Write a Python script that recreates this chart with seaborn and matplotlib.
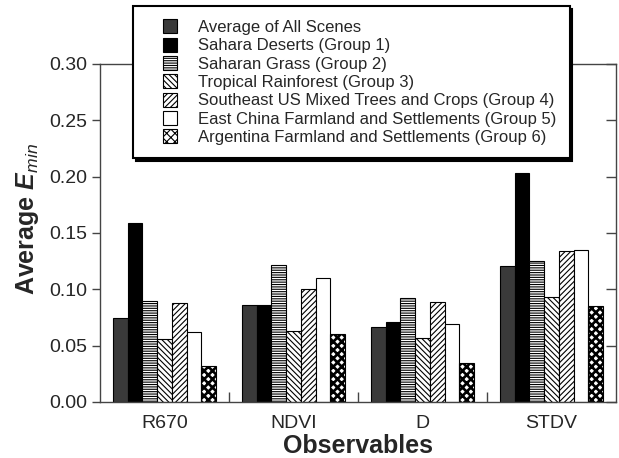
import numpy as np
import pandas as pd
import matplotlib
matplotlib.use("Agg")
import matplotlib.pyplot as plt
import matplotlib.patches as mpatches
from matplotlib.legend_handler import HandlerPatch
from matplotlib.ticker import FixedLocator, MultipleLocator, FormatStrFormatter
import seaborn as sns

# Observables on the x axis
observables = ["R670", "NDVI", "D", "STDV"]

# Scene groups (legend entries)
groups = [
    "Average of All Scenes",
    "Sahara Deserts (Group 1)",
    "Saharan Grass (Group 2)",
    "Tropical Rainforest (Group 3)",
    "Southeast US Mixed Trees and Crops (Group 4)",
    "East China Farmland and Settlements (Group 5)",
    "Argentina Farmland and Settlements (Group 6)",
]

# Average E_min per group, ordered R670, NDVI, D, STDV
avg_all = [0.075, 0.086, 0.067, 0.121]
sahara_deserts = [0.159, 0.086, 0.071, 0.203]
saharan_grass = [0.090, 0.122, 0.092, 0.125]
tropical_rainforest = [0.056, 0.063, 0.057, 0.093]
southeast_us = [0.088, 0.100, 0.089, 0.134]
east_china = [0.062, 0.110, 0.069, 0.135]
argentina = [0.032, 0.060, 0.035, 0.085]

series = [avg_all, sahara_deserts, saharan_grass, tropical_rainforest,
          southeast_us, east_china, argentina]

rows = []
for g, vals in zip(groups, series):
    for obs, v in zip(observables, vals):
        rows.append({"Observable": obs, "Group": g, "Emin": v})
df = pd.DataFrame(rows)

sns.set_style("ticks")
plt.rcParams["font.family"] = ["Liberation Sans", "DejaVu Sans"]
plt.rcParams["mathtext.fontset"] = "custom"
plt.rcParams["mathtext.rm"] = "Liberation Sans"
plt.rcParams["mathtext.it"] = "Liberation Sans:italic"
plt.rcParams["mathtext.bf"] = "Liberation Sans:bold"
has_bfit = "mathtext.bfit" in plt.rcParams
if has_bfit:
    plt.rcParams["mathtext.bfit"] = "Liberation Sans:italic:bold"
plt.rcParams["hatch.linewidth"] = 0.8
plt.rcParams["hatch.color"] = "black"

# fill style of each group
face_colors = ["#3a3a3a", "#000000", "#ffffff", "#ffffff",
               "#ffffff", "#ffffff", "#ffffff"]
hatches = [None, None, "-------", "\\" * 6, "/" * 6, None, "xxxx"]
hatch_widths = [None, None, 0.8, 0.8, 0.8, None, 1.9]


def style_patch(p, fc, h, hw):
    p.set_facecolor(fc)
    p.set_edgecolor("black")
    if h:
        p.set_hatch(h)
        if hasattr(p, "set_hatch_linewidth"):
            p.set_hatch_linewidth(hw)


fig = plt.figure(figsize=(6.19, 4.58), dpi=100)
ax = fig.add_axes([100 / 619, 56 / 458, 516 / 619, 338 / 458])

sns.barplot(data=df, x="Observable", y="Emin", hue="Group",
            hue_order=groups, order=observables,
            palette=face_colors, saturation=1, width=0.8,
            edgecolor="black", linewidth=0.8, legend=False, ax=ax)

for cont, fc, h, hw in zip(ax.containers, face_colors, hatches, hatch_widths):
    for bar in cont:
        style_patch(bar, fc, h, hw)

ax.set_xlim(-0.5, 3.5)
ax.set_ylim(0, 0.30)
ax.yaxis.set_major_locator(MultipleLocator(0.05))
ax.yaxis.set_major_formatter(FormatStrFormatter("%.2f"))

for side in ["top", "right", "left", "bottom"]:
    ax.spines[side].set_visible(True)
    ax.spines[side].set_linewidth(1.0)
    ax.spines[side].set_color("#444444")

ax.tick_params(axis="y", which="major", direction="out", length=6,
               width=1, labelsize=14, left=True, right=False,
               color="#444444", pad=3)
ax.tick_params(axis="x", which="major", length=0, labelsize=14, pad=9)
ax.xaxis.set_minor_locator(FixedLocator([0.5, 1.5, 2.5]))
ax.tick_params(axis="x", which="minor", direction="in", length=7,
               width=1, color="#444444")

# inward ticks on the right spine
ax_r = ax.twinx()
ax_r.set_ylim(ax.get_ylim())
ax_r.yaxis.set_major_locator(MultipleLocator(0.05))
ax_r.tick_params(axis="y", direction="in", length=7, width=1,
                 labelright=False, color="#444444")
for s in ax_r.spines.values():
    s.set_visible(False)

ax.set_xlabel("Observables", fontsize=18, fontweight="bold", labelpad=2)
ylab = (r"Average $\mathbfit{E}_{\mathit{min}}$" if has_bfit
        else r"Average $\mathit{E}_{min}$")
ax.set_ylabel(ylab, fontsize=18, fontweight="bold", labelpad=6)
ax.yaxis.label.set_y(0.54)


# legend swatches: a square pushed to the right end of the handle box
def right_square(legend, orig_handle, xdescent, ydescent, width, height, fontsize):
    side = height
    return mpatches.Rectangle((-xdescent + width - side, -ydescent), side, side)


proxies = []
for fc, h, hw in zip(face_colors, hatches, hatch_widths):
    p = mpatches.Rectangle((0, 0), 1, 1, linewidth=0.8)
    style_patch(p, fc, h, hw)
    proxies.append(p)

leg = fig.legend(handles=proxies, labels=groups, loc="upper left",
                 bbox_to_anchor=(133 / 619, 1 - 6 / 458),
                 bbox_transform=fig.transFigure,
                 handler_map={mpatches.Rectangle: HandlerPatch(patch_func=right_square)},
                 fontsize=12, frameon=True, fancybox=False,
                 shadow={"color": "black", "alpha": 1.0},
                 handlelength=1.85, handleheight=0.9, handletextpad=1.25,
                 labelspacing=0.16, borderpad=0.8, borderaxespad=0,
                 edgecolor="black", framealpha=1)
leg.get_frame().set_linewidth(1.5)
leg.set_zorder(10)

fig.savefig("out.png", dpi=100)
